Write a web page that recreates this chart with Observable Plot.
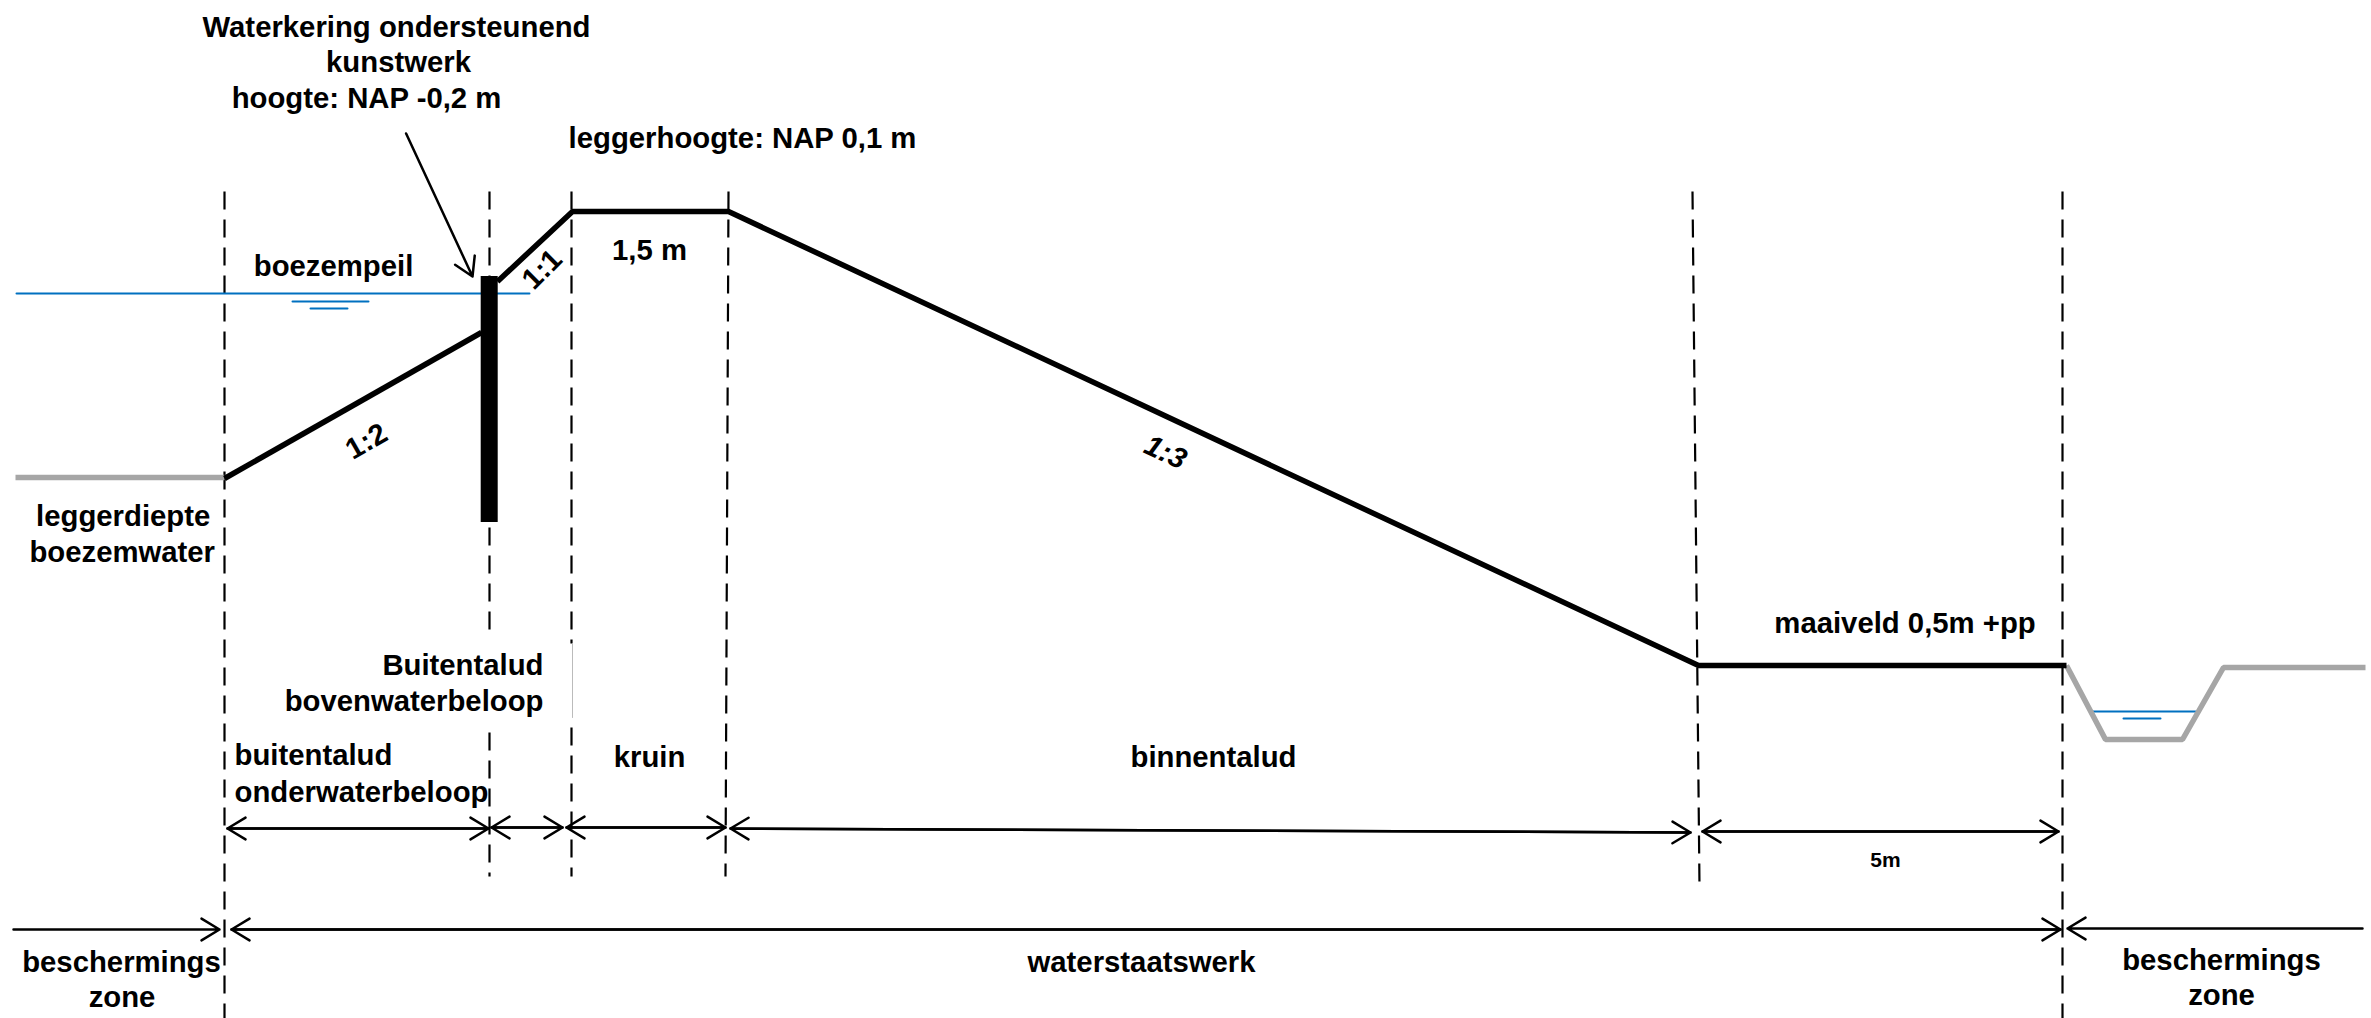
<!DOCTYPE html>
<html><head><meta charset="utf-8">
<script src="https://cdn.jsdelivr.net/npm/d3@7"></script>
<script src="https://cdn.jsdelivr.net/npm/@observablehq/plot@0.6"></script>
<style>html,body{margin:0;padding:0;background:#fff}svg{display:block}</style>
</head><body><div id="c"></div>
<script>
// Cross-section values (scale units = picture pixels)
const profileBelow = [[224,478],[481,332]];
const profileAbove = [[497,281],[572,211],[728,211],[1698,665],[2066,665]];
const bedLeft = [[15,477],[224,477]];
const ditch = [[2066,665],[2105,739],[2182,739],[2223,667],[2365,667]];
const water = [
  [[16,293],[529,293]],
  [[292,301],[368,301]],
  [[310,308],[347,308]],
  [[2092,711],[2195,711]],
  [[2123,718],[2160,718]]
];
const sheet = [{x1:480.7,x2:497.7,y1:276,y2:522}];
const dashed = [
  [[224,191],[224,1018]],
  [[489,191],[489,633]],
  [[489,732],[489,876]],
  [[571,191],[571,643]],
  [[571,727],[571,876]],
  [[728,191],[725,876]],
  [[1692,191],[1699,886]],
  [[2062,191],[2062,1018]]
];
const faintDash = [[[572,643],[572,717]]];
const bothWays = [
  [227,828,488,828],[491,827,562,827],[566,827,725,827],[730,828,1690,832],[1702,831,2058,831],
  [231,929,2060,929]
];
const oneWay = [
  [13,929,219,929],[2362,928,2067,928],[405.6,133,472,276]
];
const labels = [
  ["Waterkering ondersteunend",396,27,"middle",0,29.3],
  ["kunstwerk",398,62,"middle",0,29.3],
  ["hoogte: NAP -0,2 m",366,98,"middle",0,29.3],
  ["leggerhoogte: NAP 0,1 m",742,138,"middle",0,29.3],
  ["boezempeil",333,266,"middle",0,29.3],
  ["1,5 m",649,250,"middle",0,29.3],
  ["leggerdiepte",122.7,516,"middle",0,29.3],
  ["boezemwater",121.7,552,"middle",0,29.3],
  ["1:2",366,441,"middle",-30,29.3],
  ["1:1",541.7,269,"middle",-45,29.3],
  ["maaiveld 0,5m +pp",1904.5,623,"middle",0,29.3],
  ["Buitentalud",543,665,"end",0,29.3],
  ["bovenwaterbeloop",543,701,"end",0,29.3],
  ["buitentalud",234,755,"start",0,29.3],
  ["onderwaterbeloop",234,792,"start",0,29.3],
  ["kruin",649,757,"middle",0,29.3],
  ["binnentalud",1213,757,"middle",0,29.3],
  ["5m",1885,860,"middle",0,21],
  ["beschermings",121,962,"middle",0,29.3],
  ["zone",121.5,997,"middle",0,29.3],
  ["waterstaatswerk",1141,962,"middle",0,29.3],
  ["beschermings",2221,960,"middle",0,29.3],
  ["zone",2221,995,"middle",0,29.3]
];
const italicLabels = [["1:3",1165,452,"middle",25,29.3]];

const asLine = (pts, o) => Plot.line(pts, {x: d => d[0], y: d => d[1], ...o});
const arrowOpts = {headLength: 12.6, headAngle: 62, stroke: "#000", strokeWidth: 2.5, bend: 0};
const labelMark = (rows, anchor, rot, size, style) => Plot.text(
  rows.filter(d => d[3] === anchor && d[4] === rot && d[5] === size),
  {x: d => d[1], y: d => d[2], text: d => d[0], textAnchor: anchor, rotate: rot, fontSize: size,
   fontWeight: "bold", fontStyle: style, fontFamily: "'Liberation Sans', Arial, sans-serif", fill: "#000", lineAnchor: "middle"}
);

const chart = Plot.plot({
  width: 2371, height: 1018, margin: 0,
  style: {background: "#fff", maxWidth: "none"},
  x: {domain: [0, 2371], range: [0, 2371], axis: null},
  y: {domain: [0, 1018], range: [0, 1018], axis: null},
  marks: [
    ...dashed.map(p => asLine(p, {stroke: "#000", strokeWidth: 2.2, strokeDasharray: "18,10", strokeLinecap: "butt"})),
    ...faintDash.map(p => asLine(p, {stroke: "#bbb", strokeWidth: 1})),
    ...water.map(p => asLine(p, {stroke: "#0070c0", strokeWidth: 2})),
    asLine(bedLeft, {stroke: "#a6a6a6", strokeWidth: 5.5, strokeLinecap: "butt"}),
    asLine(ditch, {stroke: "#a6a6a6", strokeWidth: 5.5, strokeLinejoin: "miter", strokeLinecap: "butt"}),
    asLine(profileBelow, {stroke: "#000", strokeWidth: 5.5, strokeLinecap: "butt"}),
    asLine(profileAbove, {stroke: "#000", strokeWidth: 5.5, strokeLinejoin: "miter", strokeLinecap: "butt"}),
    Plot.rect(sheet, {x1: "x1", x2: "x2", y1: "y1", y2: "y2", fill: "#000"}),
    Plot.arrow(bothWays, {x1: d => d[0], y1: d => d[1], x2: d => d[2], y2: d => d[3], ...arrowOpts}),
    Plot.arrow(bothWays, {x1: d => d[2], y1: d => d[3], x2: d => d[0], y2: d => d[1], ...arrowOpts}),
    Plot.arrow(oneWay, {x1: d => d[0], y1: d => d[1], x2: d => d[2], y2: d => d[3], ...arrowOpts}),
    ...[...new Set(labels.map(d => d[3] + "|" + d[4] + "|" + d[5]))].map(k => {
      const [a, r, s] = k.split("|"); return labelMark(labels, a, +r, +s, "normal");
    }),
    labelMark(italicLabels, "middle", 25, 29.3, "italic")
  ]
});
document.getElementById("c").append(chart);
</script></body></html>
